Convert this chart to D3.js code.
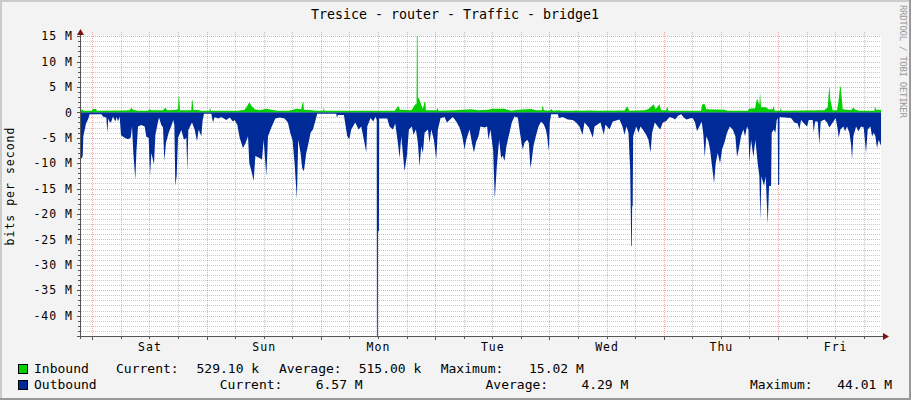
<!DOCTYPE html>
<html><head><meta charset="utf-8">
<script src="https://cdn.jsdelivr.net/npm/d3@7/dist/d3.min.js"></script>
<style>body{margin:0;background:#f3f3f3} svg{display:block}</style>
</head><body><svg id="c" width="911" height="400"></svg>
<script>
// ---------- data ----------
const titleText = "Tresice - router - Traffic - bridge1";
const yAxisLabel = "bits per second";
const watermark = "RRDTOOL / TOBI OETIKER";
const dayLabels = ["Sat", "Sun", "Mon", "Tue", "Wed", "Thu", "Fri"];
const firstMidnight = 2.37;   // hours after graph start
const spanHours = 168;
const yMinM = -44.01, yMaxM = 15.02;
const yTickValues = [15, 10, 5, 0, -5, -10, -15, -20, -25, -30, -35, -40];
const seriesNames = ["Inbound", "Outbound"];
const statCurrent = ["529.10 k", "6.57 M"];
const statAverage = ["515.00 k", "4.29 M"];
const statMaximum = ["15.02 M", "44.01 M"];

// [hours since start, Mbit/s]
const inbound = [[0,0.5],[0.42,0.5],[0.49,0.3],[2.31,0.3],[2.45,0.65],[3.22,0.65],[3.29,0.3],[8.47,0.35],[10.22,0.4],[10.57,0.9],[10.92,0.5],[11.97,0.3],[14.07,0.3],[14.42,0.6],[14.77,0.4],[17.22,0.4],[17.71,0.9],[18.13,0.4],[19.67,0.45],[20.37,0.6],[20.50,3.1],[20.62,3.1],[20.79,0.4],[23.17,0.4],[23.30,2.4],[23.42,2.4],[23.59,0.5],[24.92,0.4],[25.13,0.3],[26.95,0.3],[27.09,0.9],[27.30,0.3],[32.97,0.3],[34.37,0.5],[34.86,1.2],[35.35,2.0],[35.77,1.3],[36.47,0.6],[37.52,0.4],[38.92,0.7],[39.97,0.5],[41.37,0.3],[43.45,0.3],[44.15,0.4],[45.20,0.7],[46.25,0.6],[46.55,2.0],[46.68,2.0],[46.81,0.5],[48.00,0.45],[49.40,0.3],[50.87,0.3],[51.01,0.9],[51.15,0.3],[55.35,0.3],[58.85,0.3],[65.85,0.3],[66.20,0.7],[66.62,1.3],[66.97,0.5],[69.35,0.4],[69.77,0.9],[70.19,1.6],[70.47,1.6],[70.53,15.02],[70.68,15.02],[70.75,3.0],[71.10,2.5],[71.45,1.5],[71.80,0.7],[72.15,2.1],[72.30,2.1],[72.43,0.4],[74.67,0.4],[74.88,0.9],[75.09,0.3],[78.45,0.4],[81.95,0.6],[83.35,0.4],[85.43,0.5],[86.48,0.7],[88.93,0.7],[90.33,0.3],[91.73,0.5],[94.53,0.65],[95.58,0.4],[96.77,0.4],[96.98,1.4],[97.19,0.4],[98.38,0.3],[98.87,0.65],[99.08,0.3],[100.48,0.4],[100.83,0.3],[103.63,0.3],[103.98,0.4],[104.33,0.3],[107.13,0.35],[108.53,0.3],[114.13,0.35],[114.69,1.2],[115.18,0.3],[118.33,0.4],[119.17,0.65],[120.29,1.6],[120.64,0.6],[121.48,1.6],[121.83,0.4],[122.88,0.4],[123.09,1.2],[123.37,0.3],[130.21,0.3],[130.42,1.5],[130.91,1.7],[131.33,0.6],[135.11,0.5],[135.81,0.3],[140.01,0.3],[140.36,0.7],[141.55,0.8],[141.97,2.7],[142.46,1.5],[142.60,3.9],[142.81,1.0],[143.86,1.0],[144.35,0.6],[145.26,0.6],[145.47,1.3],[145.68,0.3],[146.80,0.3],[146.94,0.9],[147.15,0.3],[156.11,0.4],[156.81,1.0],[157.10,4.8],[157.20,4.8],[157.37,2.4],[157.86,0.4],[158.77,0.4],[159.05,2.0],[159.40,5.1],[159.50,5.1],[159.68,3.6],[159.96,0.6],[161.71,0.4],[162.20,0.9],[162.62,0.5],[163.46,0.3],[166.61,0.3],[166.75,1.2],[166.96,0.5],[168,0.53]];

// [hours since start, Mbit/s] (drawn below zero)
const outbound = [[0,9.0],[0.21,9.0],[0.35,8.6],[0.49,4.7],[0.77,3.5],[1.05,2.2],[1.47,1.4],[1.82,0.4],[4.27,0.4],[4.62,0.8],[5.32,1.0],[5.53,4.0],[5.74,1.2],[6.09,2.0],[6.37,1.8],[6.72,0.8],[7.21,1.8],[7.49,0.9],[7.77,1.8],[8.12,0.8],[8.40,4.5],[9.17,5.0],[9.87,5.3],[10.43,5.0],[10.71,2.8],[10.99,8.0],[11.41,13.2],[11.62,8.0],[11.97,2.8],[12.67,2.5],[13.37,2.8],[13.72,4.8],[14.21,5.0],[14.49,12.5],[14.77,8.0],[15.33,10.2],[15.61,4.5],[16.03,2.5],[16.38,1.0],[16.87,2.5],[17.22,3.0],[17.50,9.6],[17.85,6.0],[18.41,4.0],[18.97,2.7],[19.39,1.5],[19.60,2.5],[19.81,14.5],[20.09,12.5],[20.37,5.0],[21.07,3.5],[21.63,5.4],[22.12,5.0],[22.33,11.6],[22.54,3.5],[23.31,2.0],[23.87,3.4],[24.36,5.7],[24.71,3.4],[25.27,4.7],[25.55,1.5],[25.83,0.3],[27.37,0.3],[27.72,2.0],[28.07,0.9],[28.77,1.2],[29.47,0.9],[30.52,1.5],[31.22,1.0],[31.92,1.8],[32.27,1.5],[32.83,2.5],[33.32,5.0],[34.02,7.0],[34.58,6.0],[35.07,4.7],[35.35,10.0],[35.91,12.0],[36.26,13.5],[36.61,8.6],[37.52,9.0],[38.01,9.3],[38.36,5.4],[38.92,12.6],[39.27,4.7],[39.97,3.0],[40.81,1.2],[41.72,1.0],[42.75,1.2],[43.45,2.0],[43.94,4.0],[44.43,5.5],[44.85,10.0],[45.34,17.0],[45.62,5.4],[46.11,8.0],[46.46,11.0],[46.81,11.6],[47.30,8.0],[47.79,6.0],[48.21,4.0],[48.70,3.4],[49.26,1.5],[49.61,0.3],[53.60,0.3],[53.74,1.0],[53.95,0.5],[55.21,0.5],[55.49,2.2],[55.91,4.7],[56.33,5.3],[56.75,3.4],[57.59,2.0],[58.29,3.4],[58.85,2.8],[59.41,5.4],[59.90,7.9],[60.11,2.8],[60.81,1.1],[61.37,1.8],[61.86,0.8],[62.10,1.5],[62.14,44.01],[62.32,44.01],[62.36,23.4],[62.56,23.4],[62.62,1.2],[64.31,1.2],[64.80,2.8],[65.50,3.4],[65.99,2.2],[66.55,6.0],[66.90,9.0],[67.25,4.7],[67.95,11.6],[68.44,8.5],[68.86,3.4],[69.49,2.8],[69.84,4.4],[70.33,3.4],[70.75,6.0],[71.10,10.6],[71.45,6.6],[71.80,8.0],[72.15,4.0],[72.85,3.4],[73.20,6.0],[73.55,3.4],[74.11,5.4],[74.60,9.3],[74.95,3.4],[75.51,1.1],[76.35,0.9],[76.84,2.0],[77.40,1.5],[78.10,0.9],[78.80,1.8],[79.50,3.0],[80.06,4.7],[80.55,7.3],[80.90,5.4],[81.60,3.4],[82.09,6.0],[82.51,7.9],[83.00,5.8],[83.47,4.7],[83.89,2.8],[84.73,3.0],[85.29,2.8],[85.57,5.4],[85.99,3.4],[86.55,7.5],[86.90,17.0],[87.32,10.6],[87.81,5.4],[88.23,9.0],[88.58,8.5],[88.93,9.6],[89.35,6.6],[89.98,4.0],[90.47,2.0],[91.03,0.8],[91.73,1.0],[92.08,3.4],[92.50,6.0],[92.78,7.3],[93.13,6.0],[93.69,5.4],[94.04,6.0],[94.39,11.0],[94.67,9.3],[95.02,6.6],[95.51,4.7],[96.07,2.8],[96.63,1.8],[97.19,2.4],[97.61,3.4],[97.89,4.7],[98.24,7.6],[98.45,2.0],[98.73,0.4],[100.13,0.4],[100.34,1.1],[101.18,0.9],[102.23,1.4],[103.28,1.5],[103.98,2.0],[104.68,2.8],[105.31,4.4],[105.73,2.0],[106.64,3.0],[107.48,5.0],[107.83,2.8],[109.09,2.0],[109.79,4.4],[110.14,2.4],[110.98,3.4],[111.68,1.8],[113.08,1.4],[113.71,2.8],[114.13,4.4],[114.55,2.8],[114.97,4.0],[115.32,11.0],[115.55,26.3],[115.68,26.3],[115.74,18.5],[115.85,18.5],[115.95,4.7],[116.58,2.8],[117.07,4.0],[117.49,2.8],[117.98,3.4],[118.68,4.4],[119.17,5.4],[119.59,7.9],[119.94,4.0],[120.50,2.0],[121.13,2.8],[121.62,3.4],[122.18,2.0],[122.88,1.7],[123.58,0.9],[124.28,1.1],[124.77,1.4],[125.33,0.7],[126.01,0.4],[126.71,1.1],[127.20,1.4],[127.76,1.2],[128.46,1.1],[128.95,2.0],[129.37,3.7],[129.86,2.8],[130.35,1.8],[130.70,4.4],[130.98,8.8],[131.33,4.7],[131.75,5.7],[132.10,7.3],[132.52,10.6],[132.94,13.9],[133.29,10.0],[133.71,8.0],[134.20,10.0],[134.62,7.3],[135.11,6.0],[135.67,4.0],[136.23,2.8],[136.86,3.4],[137.42,4.7],[137.77,8.8],[138.12,7.3],[138.61,4.7],[139.10,3.4],[139.45,4.7],[139.87,2.8],[140.15,3.4],[140.36,9.8],[140.71,5.4],[141.20,8.8],[141.62,5.4],[142.11,10.0],[142.46,12.6],[142.67,21.2],[142.88,12.6],[143.44,14.5],[143.79,12.6],[144.21,22.0],[144.49,14.5],[144.91,14.5],[145.05,4.0],[145.47,3.4],[145.82,4.0],[146.10,1.5],[146.31,1.1],[146.40,14.3],[146.62,14.3],[146.70,0.9],[149.11,1.1],[149.81,2.0],[150.51,2.2],[150.86,3.4],[151.21,1.5],[152.05,2.4],[152.47,2.8],[152.82,1.5],[153.66,1.5],[153.87,3.9],[154.15,1.8],[154.71,1.8],[155.06,6.3],[155.34,1.8],[156.11,1.4],[156.67,2.0],[157.16,3.0],[157.86,2.0],[158.49,1.1],[158.91,3.4],[159.12,5.0],[159.47,3.4],[160.10,2.8],[160.45,3.7],[160.87,2.8],[161.36,4.0],[161.71,6.3],[161.92,9.3],[162.20,4.7],[162.76,2.8],[163.25,3.7],[163.81,2.8],[164.37,3.0],[164.86,7.9],[165.21,3.4],[165.77,2.8],[166.12,4.7],[166.47,4.0],[166.82,4.7],[167.17,7.0],[167.52,5.4],[168,6.57]];

// ---------- drawing ----------
const W = 911, H = 400;
const PL = 81, PR = 881, PT = 36, PB = 336;
const MONO = "'DejaVu Sans Mono', monospace";
const IN_COLOR = "#00CF00", OUT_COLOR = "#002A97";
const svg = d3.select("#c");

svg.append("rect").attr("width", W).attr("height", H).attr("fill", "#f3f3f3");
// frame (rrdtool shade)
svg.append("rect").attr("x",0).attr("y",0).attr("width",W).attr("height",2).attr("fill","#cbcbcb");
svg.append("rect").attr("x",0).attr("y",0).attr("width",2).attr("height",H).attr("fill","#cbcbcb");
svg.append("rect").attr("x",0).attr("y",H-2).attr("width",W).attr("height",2).attr("fill","#999");
svg.append("rect").attr("x",W-2).attr("y",0).attr("width",2).attr("height",H).attr("fill","#999");

const x = d3.scaleLinear().domain([0, spanHours]).range([PL, PR]);
const y = d3.scaleLinear().domain([yMinM, yMaxM]).range([PB, PT]);

svg.append("rect").attr("x", PL).attr("y", PT).attr("width", PR - PL).attr("height", PB - PT).attr("fill", "#fff");

// grid
const g = svg.append("g").attr("shape-rendering", "crispEdges");
const minorC = "rgba(128,128,128,0.45)", majorC = "rgba(255,0,0,0.35)";
for (let v = Math.ceil(yMinM); v <= Math.floor(yMaxM); v++) {
  if (v === 0) continue;
  const yy = Math.round(y(v)) + 0.5;
  g.append("line").attr("x1", PL).attr("x2", PR).attr("y1", yy).attr("y2", yy)
    .attr("stroke", v % 5 === 0 ? majorC : minorC).attr("stroke-dasharray", "1,1");
}
const vGrid = d3.range(-1, 30).map(k => ({h: firstMidnight + k * 6, major: k % 4 === 0}))
  .filter(d => d.h > 0 && d.h < spanHours);
vGrid.forEach(d => {
  const xx = Math.round(x(d.h)) + 0.5;
  g.append("line").attr("x1", xx).attr("x2", xx).attr("y1", PT - 4).attr("y2", PB)
    .attr("stroke", d.major ? majorC : minorC).attr("stroke-dasharray", "1,1");
});

// areas
const clip = svg.append("clipPath").attr("id", "pc").append("rect")
  .attr("x", PL).attr("y", PT - 10).attr("width", PR - PL).attr("height", PB - PT + 10);
const areaIn = d3.area().x(d => x(d[0])).y0(y(0)).y1(d => y(d[1]));
const areaOut = d3.area().x(d => x(d[0])).y0(y(0)).y1(d => y(-d[1]));
const dg = svg.append("g").attr("clip-path", "url(#pc)");
dg.append("path").datum(outbound).attr("d", areaOut).attr("fill", OUT_COLOR);
dg.append("path").datum(inbound).attr("d", areaIn).attr("fill", IN_COLOR);

// axes
const axC = "#555";
const ax = svg.append("g").attr("shape-rendering", "crispEdges");
ax.append("line").attr("x1", PL - 0.5).attr("x2", PL - 0.5).attr("y1", 31).attr("y2", PB + 3).attr("stroke", axC);
ax.append("line").attr("x1", PL - 4).attr("x2", PR + 3).attr("y1", PB + 0.5).attr("y2", PB + 0.5).attr("stroke", axC);
for (let v = Math.ceil(yMinM); v <= Math.floor(yMaxM); v++) {
  const yy = Math.round(y(v)) + 0.5;
  ax.append("line").attr("x1", PL - (v % 5 === 0 ? 4 : 3)).attr("x2", PL - 1).attr("y1", yy).attr("y2", yy).attr("stroke", axC);
}
vGrid.forEach(d => {
  const xx = Math.round(x(d.h)) + 0.5;
  ax.append("line").attr("x1", xx).attr("x2", xx).attr("y1", PB + 1).attr("y2", PB + (d.major ? 4 : 3)).attr("stroke", axC);
});
svg.append("path").attr("d", `M${PL-4},35 L${PL+3},35 L${PL-0.5},29 Z`).attr("fill", "#7f1010");
svg.append("path").attr("d", `M${PR+2},${PB-3} L${PR+2},${PB+4} L${PR+8},${PB+0.5} Z`).attr("fill", "#7f1010");

// y tick labels through d3 axis
const yAxis = d3.axisLeft(y).tickValues(yTickValues).tickSize(0).tickPadding(8)
  .tickFormat(d => d === 0 ? "0" : d + " M");
const ya = svg.append("g").attr("transform", `translate(${PL},0)`).call(yAxis);
ya.select(".domain").remove();
ya.selectAll("text").attr("font-family", MONO).attr("font-size", "11.5px")
  .attr("letter-spacing", "1px").attr("fill", "#000");

// x tick labels (noon of each day)
const noon = dayLabels.map((d, i) => firstMidnight + 12 + 24 * i);
const xAxis = d3.axisBottom(x).tickValues(noon).tickSize(0).tickPadding(7)
  .tickFormat((d, i) => dayLabels[i]);
const xa = svg.append("g").attr("transform", `translate(0,${PB})`).call(xAxis);
xa.select(".domain").remove();
xa.selectAll("text").attr("font-family", MONO).attr("font-size", "11.5px")
  .attr("letter-spacing", "1px").attr("fill", "#000");

// title
svg.append("text").attr("x", 455).attr("y", 19).attr("text-anchor", "middle")
  .attr("font-family", MONO).attr("font-size", "13.3px").attr("fill", "#000").text(titleText);

// y axis title
svg.append("text").attr("transform", "translate(14,186) rotate(-90)").attr("text-anchor", "middle")
  .attr("font-family", MONO).attr("font-size", "11.5px").attr("letter-spacing", "1px")
  .attr("fill", "#000").text(yAxisLabel);

// watermark
svg.append("text").attr("transform", "translate(899.5,5) rotate(90)").attr("text-anchor", "start")
  .attr("font-family", MONO).attr("font-size", "9px").attr("letter-spacing", "-0.3px")
  .attr("fill", "#999").text(watermark);

// legend
const legendRows = [
  {baseline: 373, boxY: 364, xs: [116, 196.5, 279, 358.7, 440.7, 529]},
  {baseline: 389, boxY: 380, xs: [219.8, 315.7, 485.5, 581.4, 750, 837.2]}
];
const colors = [IN_COLOR, OUT_COLOR];
legendRows.forEach((r, i) => {
  svg.append("rect").attr("x", 18.5).attr("y", r.boxY + 0.5).attr("width", 9).attr("height", 9)
    .attr("fill", colors[i]).attr("stroke", "#000").attr("stroke-width", 1);
  const pieces = [seriesNames[i], "Current:", statCurrent[i], "Average:", statAverage[i], "Maximum:", statMaximum[i]];
  const xs = [34].concat(r.xs);
  pieces.forEach((t, j) => {
    svg.append("text").attr("x", xs[j]).attr("y", r.baseline).attr("font-family", MONO)
      .attr("font-size", "13px").attr("fill", "#000").text(t);
  });
});
</script>
</body></html>
